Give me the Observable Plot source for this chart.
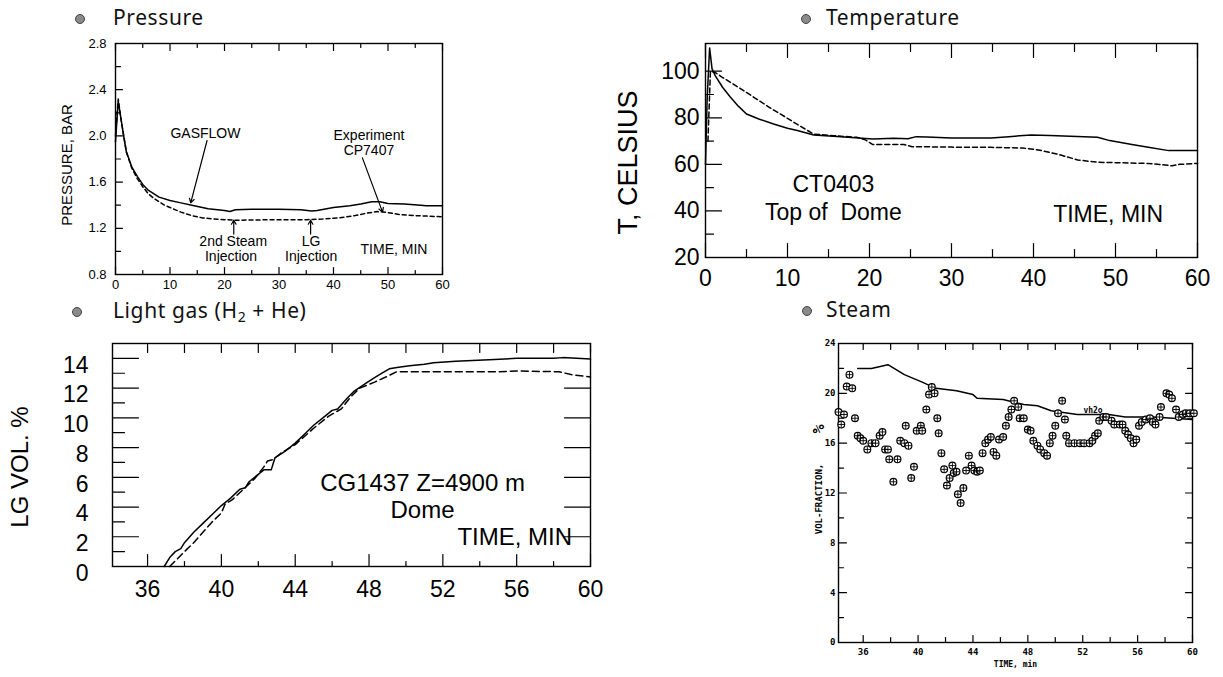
<!DOCTYPE html>
<html><head><meta charset="utf-8">
<script src="https://cdn.jsdelivr.net/npm/d3@7"></script>
<script src="https://cdn.jsdelivr.net/npm/@observablehq/plot@0.6"></script>
<style>
body{margin:0;background:#fff;}
#root{position:relative;width:1223px;height:677px;overflow:hidden;background:#fff;}
#root svg{position:absolute;left:0;top:0;}
.ttl{position:absolute;font-family:"Noto Sans","Open Sans",sans-serif;font-size:21px;letter-spacing:0.6px;color:#111;white-space:nowrap;line-height:1;}
.ttl sub{font-size:14px;vertical-align:-4px;line-height:0;}
.bul{position:absolute;width:8px;height:8px;border-radius:50%;background:#8a8a8a;border:1px solid #444;}
</style></head><body><div id="root"></div>
<script>
// ---------------- DATA ----------------
// Pressure (bar) vs time (min)
const pressureGasflow = [[0,1.95],[0.5,2.3],[1,2.15],[1.5,2.0],[2,1.86],[3,1.73],[4,1.65],[5,1.58],[6,1.53],[8,1.47],[10,1.44],[12,1.42],[14,1.40],[17,1.37],[20,1.355],[21,1.345],[22,1.36],[25,1.365],[30,1.365],[34,1.36],[36,1.35],[37,1.355],[40,1.38],[43,1.395],[45,1.41],[47,1.43],[48.5,1.43],[50,1.415],[53,1.41],[56,1.40],[57,1.395],[60,1.395]];
const pressureExperiment = [[0,2.0],[0.5,2.32],[1,2.15],[1.5,2.0],[2,1.86],[3,1.72],[4,1.63],[5,1.56],[6,1.5],[7,1.46],[8,1.43],[9,1.40],[10,1.38],[11,1.36],[12,1.34],[14,1.31],[16,1.29],[18,1.28],[22,1.27],[30,1.275],[35,1.275],[38,1.28],[41,1.29],[44,1.31],[46,1.33],[48,1.345],[49.5,1.34],[52,1.32],[55,1.31],[60,1.30]];
const pressureTicksY = [0.8,1.2,1.6,2.0,2.4,2.8];
const pressureMinorY = [1.0,1.4,1.8,2.2,2.6];
const pressureTicksX = [0,10,20,30,40,50,60];
const pressureMinorX = [5,15,25,35,45,55];
const pressureNotes = [
  {text:"GASFLOW", x:16.5, y:2.02},
  {text:"Experiment", x:46.5, y:2.0},
  {text:"CP7407", x:46.5, y:1.87},
  {text:"2nd Steam", x:21.6, y:1.085},
  {text:"Injection", x:21.2, y:0.955},
  {text:"LG", x:35.9, y:1.085},
  {text:"Injection", x:35.9, y:0.955},
  {text:"TIME, MIN", x:51.1, y:1.02}
];
const pressureArrows = [
  {x1:16.8, y1:1.96, x2:13.8, y2:1.42},
  {x1:45.3, y1:1.81, x2:49.0, y2:1.34},
  {x1:21.7, y1:1.15, x2:21.7, y2:1.27},
  {x1:35.8, y1:1.15, x2:35.8, y2:1.27}
];

// Temperature (C) vs time (min)
const tempGasflow = [[0,60],[0.2,88],[0.5,110],[0.8,101],[1.2,98],[2.1,93],[3,89],[4,85],[5,81.6],[6.5,79.5],[8.3,77.3],[10,75.5],[11.2,74.5],[13.2,72.6],[16.5,71.9],[20.4,70.9],[23,71.2],[24.7,71],[25.7,71.9],[27,71.8],[30,71.3],[34.8,71.3],[37,71.9],[39.7,72.6],[42,72.4],[47.8,71.6],[49.3,70.2],[52,68.5],[54,67.3],[56.5,65.9],[60,65.9]];
const tempExperiment = [[0.3,70],[0.6,100],[1.1,99.6],[2,97.5],[3,95.3],[4.5,92],[5.9,88.8],[8,84],[9.8,80.2],[11.5,76.5],[13.2,73],[15.6,72.3],[18.5,71.6],[19.5,70.5],[20.4,68.5],[24.2,68.5],[25.2,67.6],[30,67.4],[34.8,67.3],[38.7,67],[40.6,66.2],[43,64.3],[45.4,61.9],[47.8,60.9],[54,60.4],[56.9,59.4],[57.8,60],[60,60.4]];
const tempTicksY = [20,40,60,80,100];
const tempMinorY = [30,50,70,90];
const tempTicksX = [0,10,20,30,40,50,60];
const tempMinorX = [5,15,25,35,45,55];
const tempNotes = [
  {text:"CT0403", x:15.6, y:51.5},
  {text:"Top of  Dome", x:15.6, y:39.3},
  {text:"TIME, MIN", x:49.1, y:38.6}
];

// Light gas (vol %) vs time (min)
const lgGasflow = [[36.9,0],[37.2,0.6],[37.5,1.0],[37.8,1.2],[38.0,1.6],[38.5,2.3],[39.0,2.9],[39.5,3.5],[40.0,4.1],[40.5,4.6],[41.0,5.2],[41.3,5.3],[41.5,5.7],[42.0,6.2],[42.3,6.5],[42.7,6.5],[42.9,7.3],[43.5,7.8],[44.0,8.3],[44.5,8.9],[45.0,9.5],[45.5,10.0],[46.0,10.5],[46.3,10.6],[46.8,11.3],[47.2,11.8],[47.8,12.3],[48.3,12.7],[48.7,13.0],[49.1,13.3],[49.6,13.4],[50.2,13.5],[51.0,13.6],[51.5,13.7],[52.7,13.8],[54.5,13.9],[56,14.0],[58.0,14.0],[58.5,14.05],[60,13.95]];
const lgExperiment = [[37.2,0],[37.6,0.5],[38.0,1.0],[38.5,1.6],[39.0,2.3],[39.5,3.0],[40.0,3.6],[40.2,4.2],[40.6,4.5],[41.2,5.2],[41.8,5.9],[42.3,6.7],[42.5,7.1],[42.8,7.2],[43.2,7.6],[44.0,8.2],[45.0,9.3],[45.8,10.1],[46.5,10.6],[47.0,11.4],[47.5,12.0],[48.3,12.4],[49.0,12.8],[49.5,13.1],[50.0,13.1],[55,13.1],[56,13.15],[58.3,13.1],[59.0,12.9],[60,12.75]];
const lgTicksY = [0,2,4,6,8,10,12,14];
const lgMinorY = [1,3,5,7,9,11,13];
const lgTicksX = [36,40,44,48,52,56,60];
const lgMinorX = [38,42,46,50,54,58];
const lgNotes = [
  {text:"CG1437 Z=4900 m", x:50.9, y:5.6},
  {text:"Dome", x:50.9, y:3.75}
];
const lgTimeNote = [{text:"TIME, MIN", x:59.0, y:1.96}];

// Steam (vol %) vs time (min)
const steamGasflow = [[35.6,22.0],[36.6,22.0],[37.8,22.3],[39.0,21.5],[40.3,20.9],[41.3,20.4],[42.8,20.2],[44.0,19.9],[44.3,19.6],[46.2,19.5],[47.7,19.1],[48.7,19.0],[49.7,18.6],[51.6,18.3],[53.9,18.3],[55.1,18.1],[57.1,18.1],[60,17.9]];
const steamExperiment = [[34.2,18.5],[34.4,17.5],[34.6,18.3],[34.8,20.55],[35.0,21.5],[35.2,20.4],[35.4,18.0],[35.6,16.6],[35.8,16.4],[36.0,16.2],[36.3,15.5],[36.6,16.0],[36.9,16.0],[37.2,16.6],[37.4,16.9],[37.6,15.5],[37.8,15.5],[37.9,14.7],[38.2,12.9],[38.5,14.7],[38.7,16.2],[39.0,16.0],[39.1,17.4],[39.3,15.8],[39.5,13.2],[39.7,14.1],[39.9,17.0],[40.2,17.4],[40.3,17.0],[40.6,18.7],[40.8,19.9],[41.0,20.5],[41.2,20.0],[41.4,18.0],[41.5,16.8],[41.7,15.2],[41.9,13.9],[42.1,12.6],[42.3,13.2],[42.5,14.2],[42.6,13.6],[42.8,13.7],[42.9,11.9],[43.1,11.2],[43.3,12.4],[43.5,13.8],[43.7,15.0],[43.9,14.2],[44.1,13.8],[44.3,13.7],[44.5,13.8],[44.7,15.2],[44.9,16.0],[45.1,16.3],[45.3,16.5],[45.5,15.3],[45.7,15.0],[45.9,16.3],[46.2,16.5],[46.4,17.4],[46.6,18.1],[46.8,18.7],[47.0,19.4],[47.3,18.9],[47.4,18.0],[47.7,18.0],[48.0,17.1],[48.2,17.0],[48.4,16.2],[48.7,15.8],[48.9,15.5],[49.2,15.2],[49.4,15.0],[49.6,16.0],[49.8,16.6],[50.0,17.4],[50.2,18.4],[50.5,19.4],[50.7,17.9],[50.8,16.6],[51.0,16.0],[51.4,16.0],[51.8,16.0],[52.1,16.0],[52.5,16.0],[52.7,16.2],[52.9,16.6],[53.1,16.8],[53.2,17.8],[53.5,18.1],[53.7,18.1],[54.1,17.8],[54.3,17.5],[54.7,17.5],[54.9,17.5],[55.1,17.0],[55.3,16.7],[55.5,16.4],[55.7,16.0],[55.9,16.3],[56.1,17.4],[56.3,17.7],[56.6,17.9],[56.9,18.0],[57.1,17.7],[57.3,17.5],[57.6,18.1],[57.7,18.9],[58.1,20.0],[58.3,19.9],[58.5,19.6],[58.8,18.7],[59.0,18.1],[59.3,18.3],[59.5,18.4],[59.8,18.4],[60.1,18.4]];
const steamTicksY = [0,4,8,12,16,20,24];
const steamMinorY = [2,6,10,14,18,22];
const steamTicksX = [36,40,44,48,52,56,60];
const steamMinorX = [38,42,46,50,54,58];
const steamNote = [{text:"vh2o", x:52.75, y:18.6}];

// ---------------- RENDER ----------------
const W = 1223, H = 677;
const SANS = "Liberation Sans, Arial, Helvetica, sans-serif";
const MONO = "DejaVu Sans Mono, Liberation Mono, monospace";
const px = d => d[0], py = d => d[1];
const root = document.getElementById("root");

const boxes = {
  pressure: [115, 43, 442, 274],
  temp: [705, 43, 1197, 257],
  lg: [112, 343, 590, 566],
  steam: [838, 343, 1192, 642]
};

// inward tick segments as grouped two-point lines (length given in pixels, converted via the scale extent)
function tickSegments(box, [x0, x1], [y0, y1], spec) {
  const [l, t, r, b] = box;
  const fw = r - l, fh = b - t;
  const pts = [];
  let k = 0;
  for (const [vals, len, side] of spec) {
    const dy = (y1 - y0) * len / fh, dx = (x1 - x0) * len / fw;
    for (const v of vals) {
      k++;
      if (side === "bottom") pts.push({k, x: v, y: y0}, {k, x: v, y: y0 + dy});
      else if (side === "top") pts.push({k, x: v, y: y1}, {k, x: v, y: y1 - dy});
      else if (side === "left") pts.push({k, x: x0, y: v}, {k, x: x0 + dx, y: v});
      else pts.push({k, x: x1, y: v}, {k, x: x1 - dx, y: v});
    }
  }
  return pts;
}

function panel(box, xDomain, yDomain, tickSpec, marks, font = SANS) {
  const [l, t, r, b] = box;
  const segs = tickSegments(box, xDomain, yDomain, tickSpec);
  return Plot.plot({
    width: W, height: H,
    marginLeft: l, marginTop: t, marginRight: W - r, marginBottom: H - b,
    x: {domain: xDomain}, y: {domain: yDomain},
    style: {background: "transparent", fontFamily: font, color: "#000", overflow: "visible"},
    marks: [
      ...marks,
      Plot.line(segs, {x: "x", y: "y", z: "k", stroke: "#000", strokeWidth: 1.2})
    ]
  });
}

// Pressure
root.append(panel(boxes.pressure, [0, 60], [0.8, 2.8], [
  [pressureTicksX, 7, "bottom"], [pressureMinorX, 4, "bottom"],
  [pressureTicksX, 7, "top"], [pressureMinorX, 4, "top"],
  [pressureTicksY, 7, "left"], [pressureMinorY, 5, "left"]
], [
  Plot.axisX({anchor: "bottom", ticks: pressureTicksX, tickSize: 0, tickPadding: 5, fontSize: 13, label: null}),
  Plot.axisY({anchor: "left", ticks: pressureTicksY, tickSize: 0, tickPadding: 9, fontSize: 13, tickFormat: d => d.toFixed(1), label: null}),
  Plot.frame({strokeWidth: 1.4}),
  Plot.line(pressureGasflow, {x: px, y: py, stroke: "#000", strokeWidth: 1.5}),
  Plot.line(pressureExperiment, {x: px, y: py, stroke: "#000", strokeWidth: 1.5, strokeDasharray: "4,3"}),
  Plot.text(pressureNotes, {x: "x", y: "y", text: "text", fontSize: 14, fill: "#000"}),
  Plot.arrow(pressureArrows, {x1: "x1", y1: "y1", x2: "x2", y2: "y2", headLength: 6, strokeWidth: 1.2}),
  Plot.text(["PRESSURE, BAR"], {frameAnchor: "left", textAnchor: "middle", rotate: -90, dx: -48, dy: 6, fontSize: 15, fill: "#000"})
]));

// Temperature
root.append(panel(boxes.temp, [0, 60], [20, 111.9], [
  [tempTicksX, 14, "bottom"], [tempMinorX, 8, "bottom"],
  [tempTicksX, 14, "top"], [tempMinorX, 8, "top"],
  [tempTicksY, 16, "left"], [tempMinorY, 8, "left"]
], [
  Plot.axisX({anchor: "bottom", ticks: tempTicksX, tickSize: 0, tickPadding: 12, fontSize: 23, label: null}),
  Plot.axisY({anchor: "left", ticks: tempTicksY, tickSize: 0, tickPadding: 6, fontSize: 23, label: null}),
  Plot.frame({strokeWidth: 1.4}),
  Plot.line(tempGasflow, {x: px, y: py, stroke: "#000", strokeWidth: 1.5}),
  Plot.line(tempExperiment, {x: px, y: py, stroke: "#000", strokeWidth: 1.5, strokeDasharray: "5,3"}),
  Plot.text(tempNotes, {x: "x", y: "y", text: "text", fontSize: 23, fill: "#000"}),
  Plot.text(["T, CELSIUS"], {frameAnchor: "left", textAnchor: "middle", rotate: -90, dx: -77, dy: 12, fontSize: 27, fill: "#000"})
]));

// Light gas
root.append(panel(boxes.lg, [34.1, 60], [0, 15], [
  [lgTicksX, 12, "bottom"], [lgMinorX, 5, "bottom"],
  [lgTicksX, 9, "top"], [lgMinorX, 9, "top"],
  [lgTicksY, 26, "left"], [lgMinorY, 12, "left"],
  [lgTicksY.filter(v => v > 0 && v < 14), 26, "right"]
], [
  Plot.axisX({anchor: "bottom", ticks: lgTicksX, tickSize: 0, tickPadding: 14, fontSize: 23, label: null}),
  Plot.axisY({anchor: "left", ticks: lgTicksY, tickSize: 0, tickPadding: 24, dy: 7, fontSize: 23, label: null}),
  Plot.frame({strokeWidth: 1.4}),
  Plot.line(lgGasflow, {x: px, y: py, stroke: "#000", strokeWidth: 1.5}),
  Plot.line(lgExperiment, {x: px, y: py, stroke: "#000", strokeWidth: 1.5, strokeDasharray: "7,4"}),
  Plot.text(lgNotes, {x: "x", y: "y", text: "text", fontSize: 24, fill: "#000"}),
  Plot.text(lgTimeNote, {x: "x", y: "y", text: "text", fontSize: 24, textAnchor: "end", fill: "#000"}),
  Plot.text(["LG VOL. %"], {frameAnchor: "left", textAnchor: "middle", rotate: -90, dx: -92, dy: 12, fontSize: 24, fill: "#000"})
]));

// Steam
root.append(panel(boxes.steam, [34.2, 60], [0, 24], [
  [steamTicksX, 7, "bottom"], [steamMinorX, 5, "bottom"],
  [steamTicksX, 6, "top"], [steamMinorX, 6, "top"],
  [steamTicksY, 8, "left"], [steamMinorY, 5, "left"],
  [steamTicksY, 7, "right"], [steamMinorY, 5, "right"]
], [
  Plot.axisX({anchor: "bottom", ticks: steamTicksX, tickSize: 0, tickPadding: 6, fontSize: 9, fontWeight: "bold", label: null}),
  Plot.axisY({anchor: "left", ticks: steamTicksY, tickSize: 0, tickPadding: 3, fontSize: 9, fontWeight: "bold", label: null}),
  Plot.frame({strokeWidth: 1.4}),
  Plot.line(steamGasflow, {x: px, y: py, stroke: "#000", strokeWidth: 1.5}),
  Plot.dot(steamExperiment, {x: px, y: py, r: 3.4, stroke: "#000", fill: "#fff", strokeWidth: 1.2}),
  Plot.dot(steamExperiment, {x: px, y: py, r: 2.2, symbol: "plus", stroke: "#000", strokeWidth: 0.9}),
  Plot.text(steamNote, {x: "x", y: "y", text: "text", fontSize: 8, fontWeight: "bold", fill: "#000"}),
  Plot.text(["TIME, min"], {frameAnchor: "bottom", dy: 24, fontSize: 8, fontWeight: "bold", fill: "#000"}),
  Plot.text(["VOL-FRACTION,"], {frameAnchor: "left", textAnchor: "middle", rotate: -90, dx: -19, dy: 6, fontSize: 9, fontWeight: "bold", fill: "#000"}),
  Plot.text(["%"], {frameAnchor: "left", textAnchor: "middle", rotate: -90, dx: -19, dy: -64, fontSize: 15, fontWeight: "bold", fill: "#000"})
], MONO));

// Titles
const titles = [
  {html: "Pressure", bx: 80, ty: 19, tx: 113},
  {html: "Temperature", bx: 806, ty: 19, tx: 826},
  {html: "Light gas (H<sub>2</sub> + He)", bx: 77, ty: 312, tx: 113},
  {html: "Steam", bx: 807, ty: 311, tx: 826}
];
for (const t of titles) {
  const b = document.createElement("div");
  b.className = "bul"; b.style.left = (t.bx - 5) + "px"; b.style.top = (t.ty - 5) + "px";
  root.append(b);
  const d = document.createElement("div");
  d.className = "ttl"; d.innerHTML = t.html; d.style.left = t.tx + "px"; d.style.top = (t.ty - 12) + "px";
  root.append(d);
}
</script></body></html>
